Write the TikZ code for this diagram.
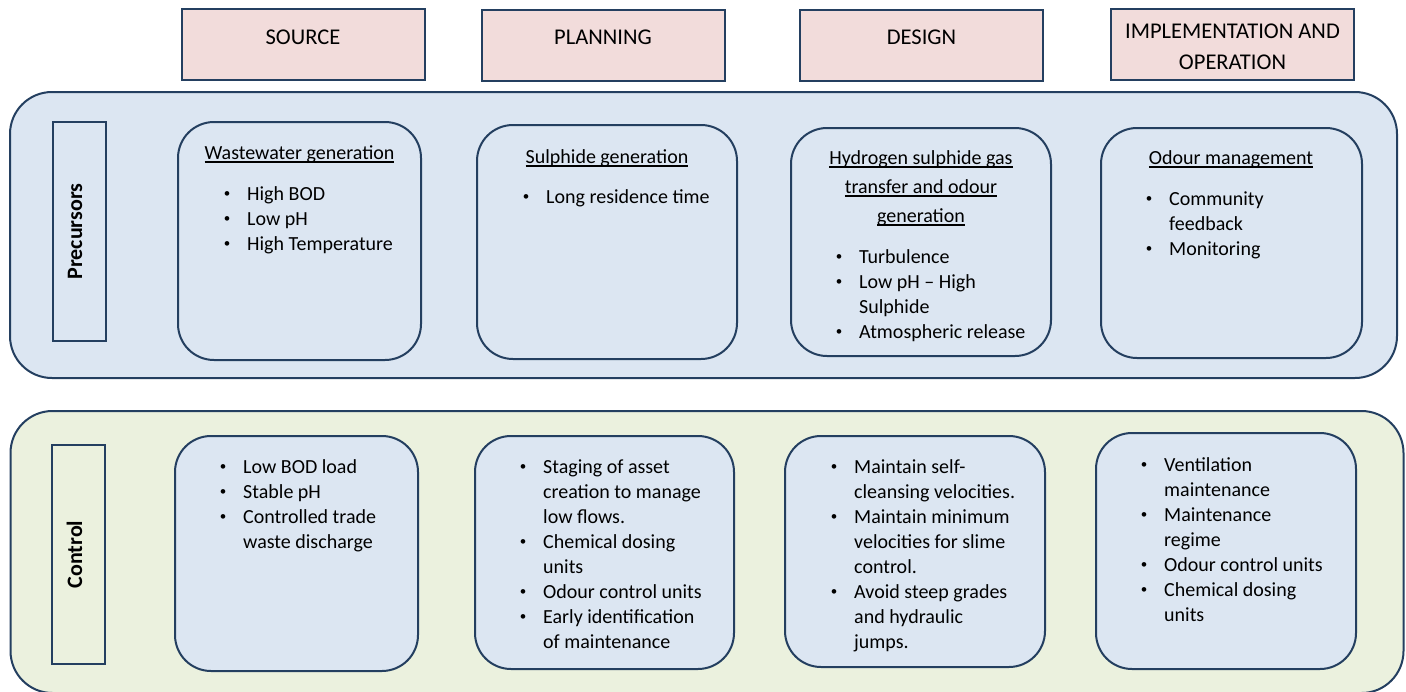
\documentclass[tikz,border=0pt]{standalone}
\usepackage{fontspec}
\setmainfont{Carlito}
\usepackage{xcolor}
\usepackage{tikz}
\usetikzlibrary{positioning}

\definecolor{navy}{HTML}{243F60}
\definecolor{pinkfill}{HTML}{F2DCDB}
\definecolor{bluefill}{HTML}{DCE6F2}
\definecolor{greenfill}{HTML}{EBF1DE}

\newsavebox{\undlbox}
\newcommand{\undl}[1]{\leavevmode\sbox{\undlbox}{#1}\rlap{\rule[-3.6pt]{\wd\undlbox}{1.3pt}}\usebox{\undlbox}}
\newcommand{\itm}[1]{\leavevmode\llap{\makebox[40pt]{\raisebox{2.2pt}{\fontsize{13}{13}\selectfont\textbullet}}}#1}
\newcommand{\lst}[1]{\parbox[t]{260pt}{\raggedright #1}}

\begin{document}
\begin{tikzpicture}[x=1pt, y=-1pt]
        \tikzstyle{hdr} = [rectangle, draw=navy, fill=pinkfill, line width=2pt, minimum width=243pt, minimum height=71pt]
        \tikzstyle{band} = [rectangle, draw=navy, line width=2pt, rounded corners=42pt]
        \tikzstyle{card} = [rectangle, draw=navy, fill=bluefill, line width=2pt, rounded corners=36pt]
        \tikzstyle{tag} = [rectangle, draw=navy, line width=2pt, minimum width=53pt, minimum height=219pt]
        \tikzstyle{hdrtext} = [inner sep=0pt, anchor=base, font=\fontsize{22.5}{31}\selectfont]
        \tikzstyle{tagtext} = [inner sep=0pt, anchor=base, rotate=90, font=\fontsize{22}{26}\selectfont\bfseries]
        \tikzstyle{cardtitle} = [inner sep=0pt, anchor=base, font=\fontsize{20}{29}\selectfont]
        \tikzstyle{cardlist} = [inner sep=0pt, anchor=base west, font=\fontsize{20}{25}\selectfont]

        \clip (0,0) rectangle (1406,691);

        % stage headers
        \node [hdr] (source) at (303,44.5) {};
        \node [hdr] (planning) at (603,45) {};
        \node [hdr] (design) at (921.5,45) {};
        \node [hdr] (operation) at (1232.5,44.5) {};
        \node [hdrtext] (source-t) at (303,44) {SOURCE};
        \node [hdrtext] (planning-t) at (603,44) {PLANNING};
        \node [hdrtext] (design-t) at (921.5,44) {DESIGN};
        \node [hdrtext] (operation-t) at (1232.5,38) {\parbox[t]{240pt}{\centering IMPLEMENTATION AND\\OPERATION}};

        % precursors row
        \node [band, fill=bluefill, minimum width=1387pt, minimum height=286pt] (precursors) at (703.5,235) {};
        \node [tag] (precursors-tag) at (79,231.5) {};
        \node [tagtext] (precursors-t) at (82,231.5) {Precursors};

        \node [card, minimum width=243pt, minimum height=238pt] (wastewater) at (299.5,241) {};
        \node [card, minimum width=260pt, minimum height=234pt] (sulphide) at (607,242) {};
        \node [card, minimum width=260pt, minimum height=228pt] (transfer) at (921,242) {};
        \node [card, minimum width=261pt, minimum height=230pt] (odour) at (1231.5,243) {};

        \node [cardtitle] (wastewater-h) at (299.5,159) {\undl{Wastewater generation}};
        \node [cardtitle] (sulphide-h) at (607,163) {\undl{Sulphide generation}};
        \node [cardtitle] (transfer-h) at (921,164) {\parbox[t]{250pt}{\centering \undl{Hydrogen sulphide gas}\\\undl{transfer and odour}\\\undl{generation}}};
        \node [cardtitle] (odour-h) at (1231,164) {\undl{Odour management}};

        \node [cardlist] (wastewater-l) at (247,200) {\lst{\itm{High BOD}\\\itm{Low pH}\\\itm{High Temperature}}};
        \node [cardlist] (sulphide-l) at (546,203) {\lst{\itm{Long residence time}}};
        \node [cardlist] (transfer-l) at (859,263) {\lst{\itm{Turbulence}\\\itm{Low pH -- High}\\Sulphide\\\itm{Atmospheric release}}};
        \node [cardlist] (odour-l) at (1169,205) {\lst{\itm{Community}\\feedback\\\itm{Monitoring}}};

        % control row
        \node [band, fill=greenfill, minimum width=1393pt, minimum height=282pt] (control) at (707,552) {};
        \node [tag] (control-tag) at (78.5,554.5) {};
        \node [tagtext] (control-t) at (82,554.5) {Control};

        \node [card, minimum width=243pt, minimum height=235pt] (trade) at (296.5,553.5) {};
        \node [card, minimum width=259pt, minimum height=233pt] (asset) at (604.5,552.5) {};
        \node [card, minimum width=260pt, minimum height=231pt] (velocity) at (915,551.5) {};
        \node [card, minimum width=260pt, minimum height=236pt] (upkeep) at (1226,551) {};

        \node [cardlist] (trade-l) at (243,473) {\lst{\itm{Low BOD load}\\\itm{Stable pH}\\\itm{Controlled trade}\\waste discharge}};
        \node [cardlist] (asset-l) at (543,473) {\lst{\itm{Staging of asset}\\creation to manage\\low flows.\\\itm{Chemical dosing}\\units\\\itm{Odour control units}\\\itm{Early identification}\\of maintenance}};
        \node [cardlist] (velocity-l) at (854,473) {\lst{\itm{Maintain self-}\\cleansing velocities.\\\itm{Maintain minimum}\\velocities for slime\\control.\\\itm{Avoid steep grades}\\and hydraulic\\jumps.}};
        \node [cardlist] (upkeep-l) at (1164,471) {\lst{\itm{Ventilation}\\maintenance\\\itm{Maintenance}\\regime\\\itm{Odour control units}\\\itm{Chemical dosing}\\units}};
    \end{tikzpicture}
\end{document}
